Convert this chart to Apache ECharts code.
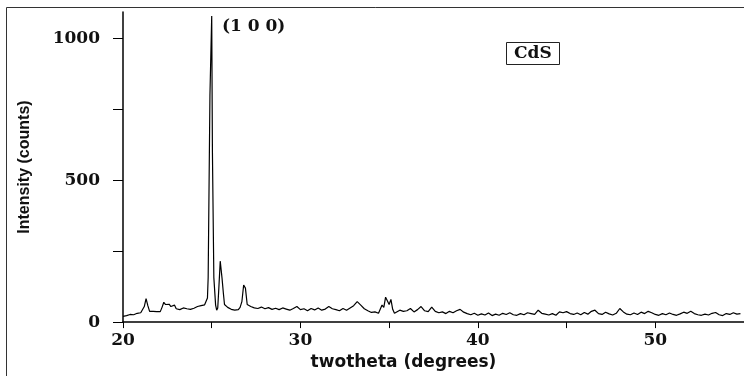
<!DOCTYPE html>
<html>
<head>
<meta charset="utf-8">
<script src="https://cdn.jsdelivr.net/npm/echarts@6/dist/echarts.min.js"></script>
<style>
  html, body { margin: 0; padding: 0; background: #fff; }
  #main { width: 744px; height: 376px; }
</style>
</head>
<body>
<div id="main"></div>
<script>
// 2theta (degrees)
var twoTheta = [
  20.0, 20.2, 20.4, 20.6, 20.8, 21.0, 21.1, 21.2, 21.3, 21.4, 21.5, 21.7, 21.9, 22.1, 22.2, 22.3, 22.4, 22.5, 22.6, 22.7,
  22.8, 22.9, 23.0, 23.1, 23.2, 23.4, 23.5, 23.6, 23.8, 23.9, 24.0, 24.2, 24.3, 24.4, 24.5, 24.6, 24.7,
  24.76, 24.8, 24.86, 24.9, 24.96, 25.0, 25.04, 25.08, 25.12, 25.18, 25.22, 25.28, 25.34, 25.4, 25.48, 25.54, 25.58, 25.62, 25.66, 25.72,
  25.8, 25.9, 26.0, 26.1, 26.2, 26.3, 26.4, 26.5, 26.6, 26.7, 26.8, 26.9, 27.0, 27.1, 27.2, 27.3, 27.4, 27.5,
  27.6, 27.8, 28.0, 28.2, 28.4, 28.6, 28.8, 29.0, 29.2, 29.4, 29.6, 29.8, 30.0, 30.2, 30.4, 30.6, 30.8, 31.0, 31.2, 31.4,
  31.6, 31.8, 32.0, 32.2, 32.4, 32.6, 32.8, 33.0, 33.2, 33.4, 33.6, 33.8, 34.0, 34.2, 34.4, 34.6, 34.7, 34.8, 34.9, 35.0,
  35.1, 35.2, 35.3, 35.4, 35.6, 35.8, 36.0, 36.2, 36.4, 36.6, 36.8, 37.0, 37.2, 37.4, 37.6, 37.8, 38.0, 38.2, 38.4, 38.6,
  38.8, 39.0, 39.2, 39.4, 39.6, 39.8, 40.0, 40.2, 40.4, 40.6, 40.8, 41.0, 41.2, 41.4, 41.6, 41.8, 42.0, 42.2, 42.4, 42.6,
  42.8, 43.0, 43.2, 43.4, 43.6, 43.8, 44.0, 44.2, 44.4, 44.6, 44.8, 45.0, 45.2, 45.4, 45.6, 45.8, 46.0, 46.2, 46.4, 46.6,
  46.8, 47.0, 47.2, 47.4, 47.6, 47.8, 48.0, 48.2, 48.4, 48.6, 48.8, 49.0, 49.2, 49.4, 49.6, 49.8, 50.0, 50.2, 50.4, 50.6,
  50.8, 51.0, 51.2, 51.4, 51.6, 51.8, 52.0, 52.2, 52.4, 52.6, 52.8, 53.0, 53.2, 53.4, 53.6, 53.8, 54.0, 54.2, 54.4, 54.6, 54.8
];
// intensity (counts)
var counts = [
  20, 23, 27, 26, 31, 33, 40, 55, 83, 58, 38, 38, 37, 37, 52, 70, 62, 57, 63, 55,
  51, 60, 47, 52, 44, 50, 43, 47, 45, 52, 49, 55, 51, 58, 54, 61, 59,
  85, 157, 157, 800, 800, 1080, 600, 600, 157, 157, 60, 42, 50, 118, 215, 215, 156, 156, 100, 62,
  55, 52, 56, 45, 48, 42, 46, 44, 52, 72, 131, 120, 62, 66, 55, 58, 50, 52,
  48, 53, 47, 51, 45, 49, 44, 50, 46, 42, 48, 55, 44, 47, 40, 48, 43, 50, 42, 46,
  55, 47, 44, 40, 48, 42, 50, 58, 72, 60, 47, 40, 34, 36, 31, 60, 52, 88, 91, 62,
  80, 45, 31, 36, 42, 38, 40, 48, 36, 44, 55, 40, 37, 53, 38, 33, 36, 30, 38, 33,
  40, 45, 35, 30, 26, 31, 24, 29, 25, 32, 23, 28, 24, 31, 27, 33, 26, 24, 30, 26,
  33, 30, 27, 42, 31, 28, 25, 30, 24, 36, 33, 37, 30, 27, 32, 26, 34, 28, 38, 42,
  30, 27, 35, 29, 25, 31, 48, 36, 28, 26, 32, 27, 35, 30, 38, 33, 27, 24, 30, 26,
  32, 27, 24, 29, 35, 31, 38, 30, 26, 24, 28, 25, 31, 34, 26, 23, 30, 27, 33, 28, 30
];
var xTicks = [20, 25, 30, 35, 40, 45, 50];
var xLabels = [20, 30, 40, 50];
var yTicks = [0, 250, 500, 750, 1000];
var yLabels = [0, 500, 1000];

var chart = echarts.init(document.getElementById('main'), null, { renderer: 'canvas' });

var seriesData = twoTheta.map(function (t, i) { return [t, counts[i]]; });

var serifBold = { fontFamily: 'DejaVu Serif', fontWeight: 'bold', color: '#111' };

var option = {
  backgroundColor: '#fff',
  animation: false,
  title: {
    text: 'CdS',
    left: 506,
    top: 42,
    padding: [2, 8, 2, 8],
    borderColor: '#222',
    borderWidth: 1,
    textStyle: { fontFamily: 'DejaVu Serif', fontWeight: 'bold', fontSize: 17, color: '#111', lineHeight: 19 }
  },
  grid: {
    left: 123,
    right: -6,
    top: 12,
    bottom: 49
  },
  xAxis: {
    type: 'value',
    min: 20,
    max: 55,
    name: 'twotheta (degrees)',
    nameLocation: 'middle',
    nameGap: 26,
    nameTextStyle: {
      fontFamily: 'DejaVu Sans', fontWeight: 'bold', fontSize: 17, color: '#111',
      padding: [0, 60, 0, 0]
    },
    axisLine: { lineStyle: { color: '#000', width: 1.5 } },
    axisTick: { customValues: xTicks, length: 6, lineStyle: { color: '#000', width: 1 } },
    axisLabel: Object.assign({ customValues: xLabels, fontSize: 17, margin: 10, formatter: '{value}' }, serifBold),
    splitLine: { show: false }
  },
  yAxis: {
    type: 'value',
    min: 0,
    max: 1094,
    name: 'Intensity (counts)',
    nameLocation: 'middle',
    nameGap: 90,
    nameTextStyle: { fontFamily: 'Liberation Sans', fontWeight: 'bold', fontSize: 16, color: '#111' },
    axisLine: { show: true, lineStyle: { color: '#000', width: 1.5 } },
    axisTick: { show: true, customValues: yTicks, length: 10, lineStyle: { color: '#000', width: 1 } },
    axisLabel: Object.assign({
      customValues: yLabels, fontSize: 17, margin: 23,
      formatter: function (v) { return String(v); }   // no thousands comma
    }, serifBold),
    splitLine: { show: false }
  },
  graphic: [
    {
      // outer frame of the figure
      type: 'rect',
      shape: { x: 6.5, y: 7.5, width: 800, height: 400 },
      style: { fill: 'none', stroke: '#333', lineWidth: 1 },
      silent: true
    },
    {
      type: 'text',
      left: 222,
      top: 18,
      style: { text: '(1 0 0)', fontFamily: 'DejaVu Serif', fontWeight: 'bold', fontSize: 17, fill: '#111' }
    }
  ],
  series: [{
    type: 'line',
    data: seriesData,
    symbol: 'none',
    clip: true,
    lineStyle: { color: '#000', width: 1.2 }
  }]
};

chart.setOption(option);
</script>
</body>
</html>
